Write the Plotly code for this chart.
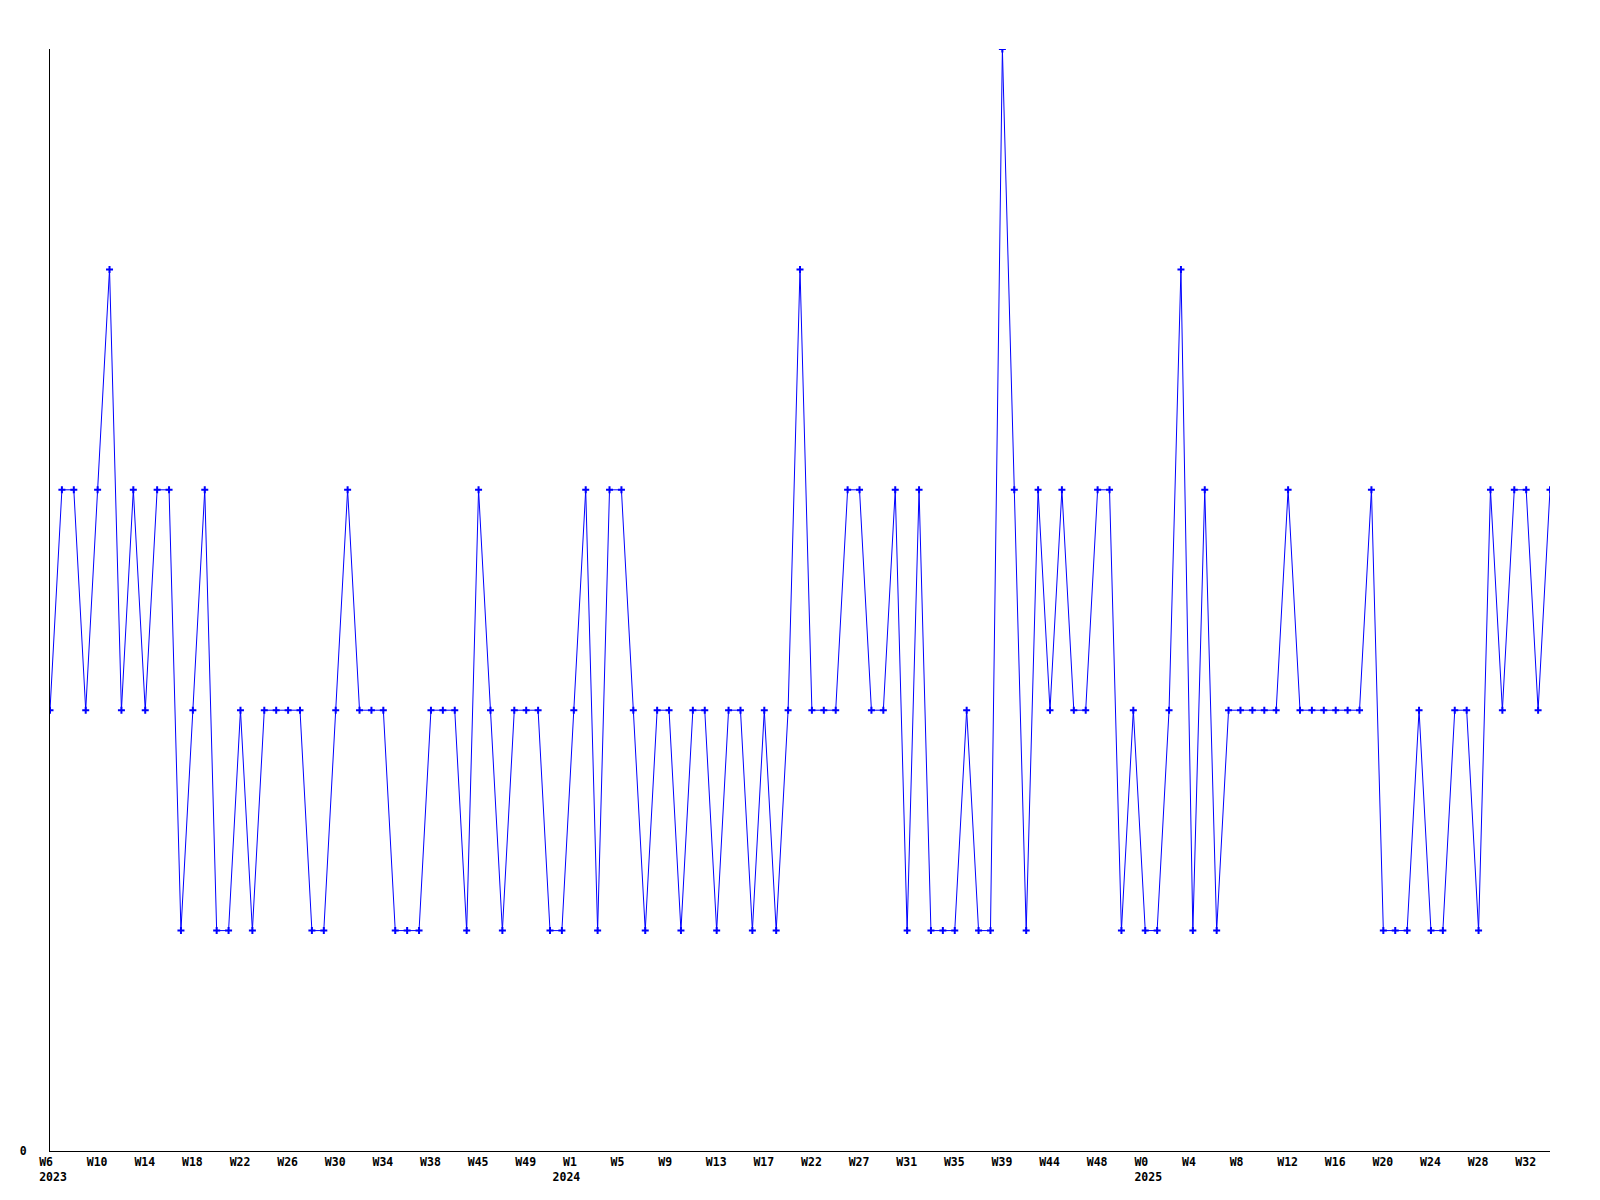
import plotly.graph_objects as go

# Weekly values (127 weeks, W6 2023 .. W34 2025)
values = [
    2, 3, 3, 2, 3, 4, 2, 3, 2, 3,
    3, 1, 2, 3, 1, 1, 2, 1, 2, 2,
    2, 2, 1, 1, 2, 3, 2, 2, 2, 1,
    1, 1, 2, 2, 2, 1, 3, 2, 1, 2,
    2, 2, 1, 1, 2, 3, 1, 3, 3, 2,
    1, 2, 2, 1, 2, 2, 1, 2, 2, 1,
    2, 1, 2, 4, 2, 2, 2, 3, 3, 2,
    2, 3, 1, 3, 1, 1, 1, 2, 1, 1,
    5, 3, 1, 3, 2, 3, 2, 2, 3, 3,
    1, 2, 1, 1, 2, 4, 1, 3, 1, 2,
    2, 2, 2, 2, 3, 2, 2, 2, 2, 2,
    2, 3, 1, 1, 1, 2, 1, 1, 2, 2,
    1, 3, 2, 3, 3, 2, 3,
]
week_index = list(range(len(values)))

# Tick labels, one every 4 weeks
week_labels = [
    "W6", "W10", "W14", "W18", "W22", "W26", "W30", "W34", "W38", "W45", "W49",
    "W1", "W5", "W9", "W13", "W17", "W22", "W27", "W31", "W35", "W39", "W44", "W48",
    "W0", "W4", "W8", "W12", "W16", "W20", "W24", "W28", "W32",
]
year_labels = {0: "2023", 11: "2024", 23: "2025"}
tick_step = 4

NB = "\u00a0"


def pad(s, n=4):
    return s + NB * (n - len(s))


tickvals = [i * tick_step for i in range(len(week_labels))]
ticktext = []
for i, w in enumerate(week_labels):
    t = pad(w)
    if i in year_labels:
        # the 2024 year label sits one week to the left of its week label
        extra = 3 if year_labels[i] == "2024" else 0
        t += "<br>" + pad(year_labels[i]) + NB * extra
    ticktext.append(t)

fig = go.Figure()
fig.add_trace(go.Scatter(
    x=week_index,
    y=values,
    mode="lines+markers",
    line=dict(color="#0000ff", width=1),
    marker=dict(symbol="cross-thin", size=5, color="#0000ff",
                line=dict(color="#0000ff", width=2)),
    showlegend=False,
    hoverinfo="x+y",
))

font_family = "DejaVu Sans Mono"

fig.update_layout(
    width=1600,
    height=1200,
    margin=dict(l=42, r=58, t=41, b=57, pad=0),
    paper_bgcolor="white",
    plot_bgcolor="white",
    font=dict(family=font_family, size=11.5, color="black"),
    xaxis=dict(
        range=[0, len(values) - 1],
        tickmode="array",
        tickvals=tickvals,
        ticktext=ticktext,
        ticklabelshift=3,
        showgrid=False,
        zeroline=False,
        showline=True,
        linecolor="black",
        linewidth=1,
        ticks="",
        tickangle=0,
        tickfont=dict(family=font_family, size=11.5, color="black", weight="bold"),
    ),
    yaxis=dict(
        range=[0, 5],
        tickmode="array",
        tickvals=[0],
        ticktext=["0"],
        showgrid=False,
        zeroline=False,
        showline=True,
        linecolor="black",
        linewidth=1,
        ticks="",
        ticklabelstandoff=20,
        tickfont=dict(family=font_family, size=11.5, color="black", weight="bold"),
    ),
)

fig.write_html("out.html")
